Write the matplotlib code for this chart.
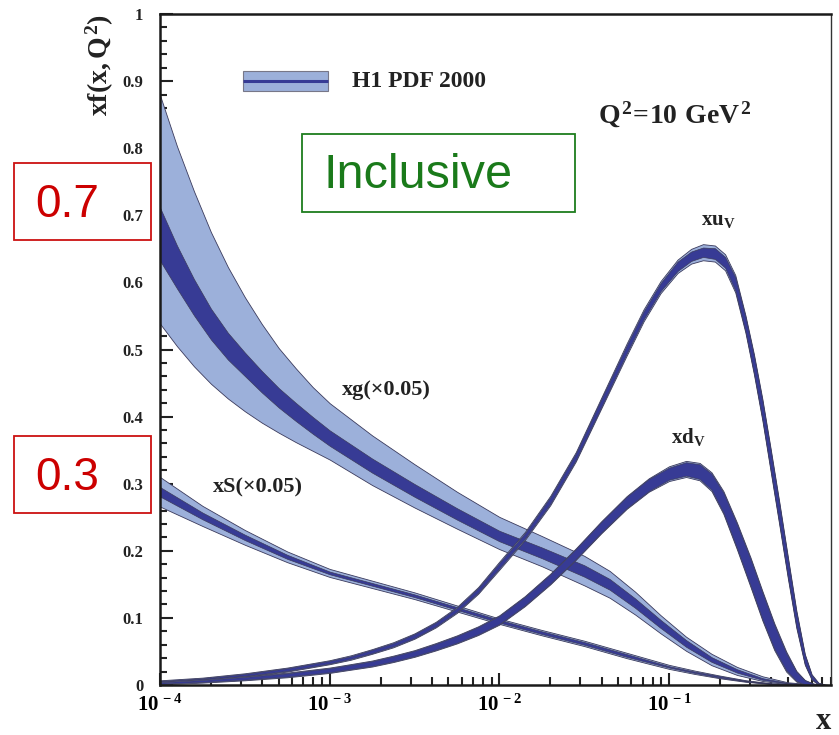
import numpy as np
import matplotlib
matplotlib.use("Agg")
from matplotlib import pyplot as plt
from matplotlib.patches import Rectangle
from matplotlib.ticker import FixedLocator, NullFormatter, LogLocator

plt.rcParams["font.family"] = ["Liberation Serif", "DejaVu Serif"]
plt.rcParams["mathtext.fontset"] = "custom"
plt.rcParams["mathtext.rm"] = "Liberation Serif:bold"
plt.rcParams["mathtext.it"] = "Liberation Serif:bold"
plt.rcParams["mathtext.bf"] = "Liberation Serif:bold"

# H1 PDF 2000 fit at Q^2 = 10 GeV^2
# each set: log10 x, central value, exp. error, total error down / up
g_logx = [-4, -3.9, -3.8, -3.7, -3.6, -3.5, -3.4, -3.3, -3.2, -3.1, -3.0, -2.75, -2.5, -2.25,
          -2.0, -1.75, -1.5, -1.35, -1.2, -1.05, -0.9, -0.75, -0.6, -0.45, -0.3, -0.15, -0.05]
g_c = [0.672, 0.623, 0.578, 0.538, 0.505, 0.478, 0.452, 0.428, 0.407, 0.387, 0.368, 0.327, 0.290, 0.255,
       0.222, 0.197, 0.170, 0.150, 0.122, 0.091, 0.062, 0.038, 0.021, 0.009, 0.0025, 0.0004, 0]
g_exp = [0.0395, 0.032, 0.027, 0.023, 0.020, 0.0175, 0.016, 0.0145, 0.0135, 0.0125, 0.0115, 0.0105, 0.0095, 0.0085,
         0.0078, 0.008, 0.0085, 0.008, 0.007, 0.006, 0.005, 0.0035, 0.0025, 0.0012, 0.0005, 0.0001, 0]
g_dn = [0.1335, 0.118, 0.103, 0.089, 0.078, 0.070, 0.061, 0.052, 0.045, 0.038, 0.032, 0.029, 0.0255, 0.022,
        0.0195, 0.020, 0.0215, 0.020, 0.017, 0.014, 0.011, 0.0085, 0.006, 0.003, 0.0015, 0.0004, 0]
g_up = [0.207, 0.180, 0.158, 0.137, 0.118, 0.100, 0.086, 0.074, 0.065, 0.057, 0.052, 0.045, 0.039, 0.033,
        0.0285, 0.025, 0.0225, 0.020, 0.017, 0.013, 0.010, 0.0085, 0.006, 0.004, 0.0015, 0.0006, 0]

s_logx = [-4, -3.75, -3.5, -3.25, -3.0, -2.75, -2.5, -2.25, -2.0, -1.75, -1.5, -1.25, -1.0,
          -0.85, -0.7, -0.55, -0.4, -0.25, -0.1]
s_c = [0.288, 0.252, 0.220, 0.191, 0.167, 0.150, 0.133, 0.114, 0.095, 0.078, 0.062, 0.044, 0.027,
       0.019, 0.012, 0.006, 0.002, 0.0004, 0]
s_exp = [0.007, 0.005, 0.004, 0.003, 0.002, 0.002, 0.002, 0.002, 0.002, 0.002, 0.002, 0.002, 0.001,
         0.001, 0.001, 0.0005, 0.0003, 0.0001, 0]
s_tot = [0.022, 0.015, 0.011, 0.008, 0.006, 0.0055, 0.005, 0.0045, 0.004, 0.004, 0.004, 0.004, 0.003,
         0.0025, 0.002, 0.0012, 0.0006, 0.0002, 0]

uv_logx = [-4, -3.75, -3.5, -3.25, -3.0, -2.875, -2.75, -2.625, -2.5, -2.375, -2.25, -2.125, -2.0,
           -1.85, -1.7, -1.55, -1.4, -1.25, -1.15, -1.05, -0.95, -0.87, -0.8, -0.73, -0.67, -0.61,
           -0.55, -0.5, -0.45, -0.4, -0.35, -0.3, -0.25, -0.2, -0.16, -0.12, -0.08, -0.046]
uv_c = [0.005, 0.009, 0.015, 0.023, 0.034, 0.041, 0.050, 0.060, 0.073, 0.090, 0.112, 0.141, 0.178,
        0.222, 0.275, 0.340, 0.420, 0.500, 0.551, 0.593, 0.624, 0.639, 0.645, 0.643, 0.630, 0.598,
        0.538, 0.478, 0.410, 0.333, 0.255, 0.175, 0.098, 0.038, 0.012, 0.002, 0.0003, 0]
uv_exp = [0.001, 0.001, 0.0015, 0.002, 0.002, 0.002, 0.0025, 0.0025, 0.003, 0.003, 0.003, 0.0035, 0.004,
          0.004, 0.005, 0.005, 0.006, 0.006, 0.006, 0.006, 0.007, 0.007, 0.007, 0.008, 0.008, 0.010,
          0.011, 0.013, 0.014, 0.015, 0.015, 0.014, 0.011, 0.007, 0.003, 0.001, 0.0002, 0]
uv_tot = [0.002, 0.002, 0.0025, 0.003, 0.003, 0.0033, 0.0035, 0.0038, 0.004, 0.0042, 0.0045, 0.005, 0.006,
          0.006, 0.007, 0.007, 0.008, 0.009, 0.009, 0.009, 0.010, 0.011, 0.012, 0.012, 0.012, 0.013,
          0.013, 0.015, 0.016, 0.017, 0.017, 0.016, 0.013, 0.008, 0.004, 0.0015, 0.0003, 0]

dv_logx = [-4, -3.75, -3.5, -3.25, -3.0, -2.875, -2.75, -2.625, -2.5, -2.375, -2.25, -2.125, -2.0,
           -1.85, -1.7, -1.55, -1.4, -1.25, -1.12, -1.0, -0.9, -0.82, -0.75, -0.68, -0.6, -0.52,
           -0.45, -0.38, -0.31, -0.25, -0.2, -0.15, -0.1]
dv_c = [0.003, 0.006, 0.010, 0.015, 0.022, 0.027, 0.032, 0.039, 0.047, 0.057, 0.068, 0.081, 0.097,
        0.125, 0.158, 0.195, 0.235, 0.272, 0.298, 0.315, 0.322, 0.318, 0.303, 0.272, 0.222, 0.168,
        0.118, 0.072, 0.035, 0.013, 0.004, 0.001, 0]
dv_exp = [0.001, 0.0015, 0.002, 0.0025, 0.003, 0.0032, 0.0035, 0.0038, 0.004, 0.0045, 0.005, 0.0055, 0.006,
          0.0065, 0.007, 0.0075, 0.008, 0.0085, 0.009, 0.009, 0.010, 0.011, 0.012, 0.015, 0.018, 0.020,
          0.020, 0.018, 0.013, 0.007, 0.003, 0.001, 0]
dv_tot = [0.002, 0.0025, 0.003, 0.0035, 0.004, 0.0042, 0.0045, 0.0048, 0.005, 0.0055, 0.006, 0.0065, 0.007,
          0.0075, 0.008, 0.0085, 0.009, 0.0095, 0.010, 0.011, 0.012, 0.013, 0.014, 0.017, 0.020, 0.022,
          0.022, 0.020, 0.015, 0.008, 0.0035, 0.0012, 0]

LIGHT = "#9cb0da"
DARK = "#373b95"
EDGE = "#3a3a5c"

fig = plt.figure(figsize=(8.39, 7.35), dpi=100)
ax = fig.add_axes([160 / 839, 1 - 685 / 735, 671 / 839, 671 / 735])


def draw_band(logx, c, exp, dn, up):
    x = 10.0 ** np.array(logx)
    c = np.array(c)
    exp = np.array(exp)
    ax.fill_between(x, c - np.array(dn), c + np.array(up), facecolor=LIGHT,
                    edgecolor=EDGE, linewidth=0.6, zorder=2)
    ax.fill_between(x, c - exp, c + exp, facecolor=DARK,
                    edgecolor=EDGE, linewidth=0.5, zorder=2)


draw_band(g_logx, g_c, g_exp, g_dn, g_up)
draw_band(s_logx, s_c, s_exp, s_tot, s_tot)
draw_band(uv_logx, uv_c, uv_exp, uv_tot, uv_tot)
draw_band(dv_logx, dv_c, dv_exp, dv_tot, dv_tot)

ax.set_xscale("log")
ax.set_xlim(1e-4, 0.9)
ax.set_ylim(0, 1)

ax.xaxis.set_major_locator(FixedLocator([1e-4, 1e-3, 1e-2, 1e-1]))
ax.xaxis.set_minor_locator(LogLocator(base=10, subs=np.arange(2, 10), numticks=20))
ax.xaxis.set_minor_formatter(NullFormatter())
ax.set_xticklabels([r"$10^{\,-4}$", r"$10^{\,-3}$", r"$10^{\,-2}$", r"$10^{\,-1}$"])

ax.set_yticks(np.arange(0, 1.01, 0.1))
ax.set_yticks(np.arange(0, 1.001, 0.02), minor=True)
ax.set_yticklabels(["0", "0.1", "0.2", "0.3", "0.4", "0.5", "0.6", "0.7", "0.8", "0.9", "1"])

ax.tick_params(axis="both", which="both", direction="in", width=1.5, color="#222222")
ax.tick_params(axis="y", which="major", length=9.5, pad=12, labelsize=12)
ax.tick_params(axis="y", which="minor", length=5)
ax.tick_params(axis="x", which="major", length=9, pad=7, labelsize=15)
ax.tick_params(axis="x", which="minor", length=5.5)
for lab in ax.get_yticklabels():
    lab.set_fontweight("bold")
    lab.set_color("#222222")

for side in ["left", "bottom", "top"]:
    ax.spines[side].set_linewidth(1.8)
    ax.spines[side].set_color("#1a1a1a")
ax.spines["right"].set_linewidth(1.0)
ax.spines["right"].set_color("#333333")

# legend entry
ax.add_patch(Rectangle((0.1237, 0.885), 0.1267, 0.030, transform=ax.transAxes,
                       facecolor=LIGHT, edgecolor="#777788", linewidth=0.8, zorder=5))
ax.plot([0.1237, 0.2504], [0.900, 0.900], transform=ax.transAxes, color=DARK,
        linewidth=2.2, zorder=6, solid_capstyle="butt")
ax.text(0.286, 0.900, "H1 PDF 2000", transform=ax.transAxes, fontsize=17,
        fontweight="bold", va="center", ha="left", color="#222222")

ax.text(0.7675, 0.850, r"$Q^2\!=\!10\ GeV^2$", transform=ax.transAxes, fontsize=20,
        va="center", ha="center", color="#222222")

ax.text(0.832, 0.692, r"$xu_V$", transform=ax.transAxes, fontsize=15, ha="center", va="center",
        color="#222222")
ax.text(0.787, 0.370, r"$xd_V$", transform=ax.transAxes, fontsize=15, ha="center", va="center",
        color="#222222")
ax.text(0.337, 0.440, "xg(×0.05)", transform=ax.transAxes, fontsize=16, fontweight="bold",
        ha="center", va="center", color="#222222")
ax.text(0.146, 0.295, "xS(×0.05)", transform=ax.transAxes, fontsize=16, fontweight="bold",
        ha="center", va="center", color="#222222")

# green "Inclusive" box
ax.add_patch(Rectangle((0.2116, 0.705), 0.4069, 0.116, transform=ax.transAxes,
                       facecolor="none", edgecolor="#1e7d1e", linewidth=1.3, zorder=5))
ax.text(0.243, 0.760, "Inclusive", transform=ax.transAxes, fontsize=35, family="Liberation Sans",
        color="#1a7a1a", ha="left", va="center")

# axis titles
fig.text(0.119, 0.981, r"$xf(x,Q^2)$", rotation=90, fontsize=20, ha="center", va="top",
         color="#222222")
fig.text(0.981, 0.018, "x", fontsize=22, fontweight="bold", ha="center", va="center",
         color="#222222")

# red value boxes
for ybox, label in [(0.6735, "0.7"), (0.302, "0.3")]:
    fig.patches.append(Rectangle((0.0167, ybox), 0.1633, 0.1048, transform=fig.transFigure,
                                 facecolor="none", edgecolor="#cc1111", linewidth=1.3))
    fig.text(0.0799, ybox + 0.0470, label, fontsize=33, family="Liberation Sans",
             color="#cc0000", ha="center", va="center")

fig.savefig("out.png", dpi=100)
